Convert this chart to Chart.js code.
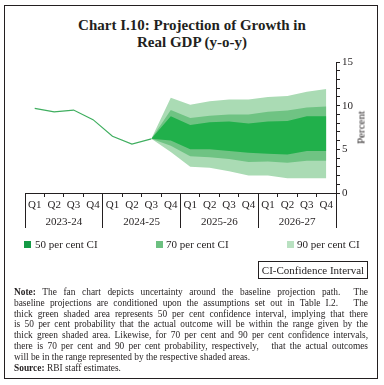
<!DOCTYPE html>
<html>
<head>
<meta charset="utf-8">
<script src="https://cdn.jsdelivr.net/npm/chart.js@4.4.1/dist/chart.umd.min.js"></script>
<style>
  body { margin: 0; width: 384px; height: 385px; background: #fff; position: relative; overflow: hidden;
         font-family: 'Liberation Serif', serif; color: #231f20; }
  .frame { position: absolute; left: 4px; top: 5px; width: 372px; height: 372px; border: 1.5px solid #231f20; }
  .title { position: absolute; left: 0; top: 17px; width: 384px; text-align: center; font-weight: bold;
           font-size: 15px; line-height: 17px; }
  .chart { position: absolute; left: 0; top: 0; }
  .ytitle { position: absolute; left: 331px; top: 121px; width: 60px; text-align: center; font-size: 11px;
            line-height: 13px; transform: rotate(-90deg); }
  .legend span.box { position: absolute; width: 7px; height: 7px; }
  .legend span.txt { position: absolute; font-size: 11px; line-height: 13px; white-space: nowrap; }
  .cibox { position: absolute; left: 258px; top: 261px; width: 108px; height: 16px; border: 1px solid #231f20;
           font-size: 11px; line-height: 16px; text-align: center; }
  .note { position: absolute; left: 14px; top: 287px; width: 354px; font-size: 9.4px; line-height: 10.8px; }
  .note div { text-align: justify; text-align-last: justify; white-space: nowrap; }
  .note div.last { text-align-last: left; }
</style>
</head>
<body>
<div class="frame"></div>
<div class="title">Chart I.10: Projection of Growth in<br>Real GDP (y-o-y)</div>
<div class="chart"><canvas id="fanChart" width="384" height="240"></canvas></div>
<div class="ytitle">Percent</div>
<div class="legend">
  <span class="box" style="left:24px;top:241px;background:#139a45"></span>
  <span class="txt" style="left:35px;top:238px">50 per cent CI</span>
  <span class="box" style="left:156px;top:241px;background:#6cc080"></span>
  <span class="txt" style="left:166px;top:238px">70 per cent CI</span>
  <span class="box" style="left:287px;top:241px;background:#b9e1c1"></span>
  <span class="txt" style="left:297px;top:238px">90 per cent CI</span>
</div>
<div class="cibox">CI-Confidence Interval</div>
<div class="note">
  <div><b>Note:</b> The fan chart depicts uncertainty around the baseline projection path.&nbsp; The</div>
  <div>baseline projections are conditioned upon the assumptions set out in Table I.2.&nbsp;&nbsp; The</div>
  <div>thick green shaded area represents 50 per cent confidence interval, implying that there</div>
  <div>is 50 per cent probability that the actual outcome will be within the range given by the</div>
  <div>thick green shaded area. Likewise, for 70 per cent and 90 per cent confidence intervals,</div>
  <div>there is 70 per cent and 90 per cent probability, respectively,&nbsp;&nbsp; that the actual outcomes</div>
  <div class="last">will be in the range represented by the respective shaded areas.</div>
  <div class="last"><b>Source:</b> RBI staff estimates.</div>
</div>
<script>
// quarters and fiscal years
const quarters = ['Q1', 'Q2', 'Q3', 'Q4', 'Q1', 'Q2', 'Q3', 'Q4',
                  'Q1', 'Q2', 'Q3', 'Q4', 'Q1', 'Q2', 'Q3', 'Q4'];
const years = ['2023-24', '2024-25', '2025-26', '2026-27'];

// actual growth (line)
const actual = [9.7, 9.3, 9.5, 8.4, 6.5, 5.6, 6.2, null, null, null, null, null, null, null, null, null];

// fan bands
const ci90Upper = [null, null, null, null, null, null, 6.2, 10.9, 10.1, 10.5, 10.7, 10.7, 11.0, 11.1, 11.6, 11.9];
const ci70Upper = [null, null, null, null, null, null, 6.2, 9.5, 8.6, 8.85, 9.0, 9.0, 9.3, 9.45, 9.8, 9.9];
const ci50Upper = [null, null, null, null, null, null, 6.2, 8.8, 7.8, 8.1, 8.2, 7.95, 8.2, 8.25, 8.8, 8.8];
const ci50Lower = [null, null, null, null, null, null, 6.2, 6.0, 5.0, 5.0, 4.8, 4.6, 4.5, 4.4, 4.8, 4.8];
const ci70Lower = [null, null, null, null, null, null, 6.2, 5.4, 4.2, 4.1, 3.9, 3.55, 3.6, 3.45, 3.7, 3.7];
const ci90Lower = [null, null, null, null, null, null, 6.2, 4.7, 3.0, 2.9, 2.5, 2.0, 2.0, 1.7, 1.7, 1.7];

const yLabels = [0, 5, 10, 15];

const ink = '#231f20';
Chart.defaults.font.family = "'Liberation Serif', serif";
Chart.defaults.color = ink;

function bandSets(upper, lower, color, order) {
    return [
        { data: upper, fill: '+1', backgroundColor: color, borderWidth: 0, pointRadius: 0, order: order },
        { data: lower, fill: false, borderWidth: 0, pointRadius: 0, order: order }
    ];
}

new Chart(document.getElementById('fanChart'), {
    type: 'line',
    data: {
        labels: quarters,
        datasets: [
            { data: actual, borderColor: '#3fae5f', borderWidth: 1.2, pointRadius: 0, fill: false, order: 0 },
            ...bandSets(ci50Upper, ci50Lower, '#21b04b', 1),
            ...bandSets(ci70Upper, ci70Lower, '#6fc383', 2),
            ...bandSets(ci90Upper, ci90Lower, '#aadbb4', 3)
        ]
    },
    options: {
        responsive: false,
        animation: false,
        devicePixelRatio: 1,
        layout: { padding: { top: 62, left: 25, right: 0, bottom: 12 } },
        plugins: { legend: { display: false }, tooltip: { enabled: false } },
        scales: {
            x: {
                type: 'category',
                position: 'bottom',
                offset: true,
                weight: 0,
                grid: {
                    offset: true,
                    drawOnChartArea: false,
                    tickLength: 20,
                    color: ink,
                    tickBorderDash: ctx => (ctx.index === undefined || ctx.index % 4 === 0) ? [] : [3, 40]
                },
                border: { color: ink, width: 1 },
                ticks: { padding: -14, font: { size: 11 }, maxRotation: 0, autoSkip: false },
                afterFit: s => { s.height = 20; }
            },
            year: {
                type: 'category',
                labels: years,
                position: 'bottom',
                offset: true,
                weight: 1,
                grid: { offset: true, drawOnChartArea: false, tickLength: 15, color: ink },
                border: { display: false },
                ticks: { padding: -12, font: { size: 11 }, maxRotation: 0, autoSkip: false },
                afterFit: s => { s.height = 15; }
            },
            y: {
                position: 'right',
                min: 0,
                max: 15,
                ticks: {
                    stepSize: 1,
                    padding: 2,
                    autoSkip: false,
                    font: { size: 11 },
                    callback: v => yLabels.includes(v) ? v : ''
                },
                grid: { drawOnChartArea: false, tickLength: 4, color: ink },
                border: { color: ink },
                afterFit: s => { s.width = 48; }
            }
        }
    }
});
</script>
</body>
</html>
